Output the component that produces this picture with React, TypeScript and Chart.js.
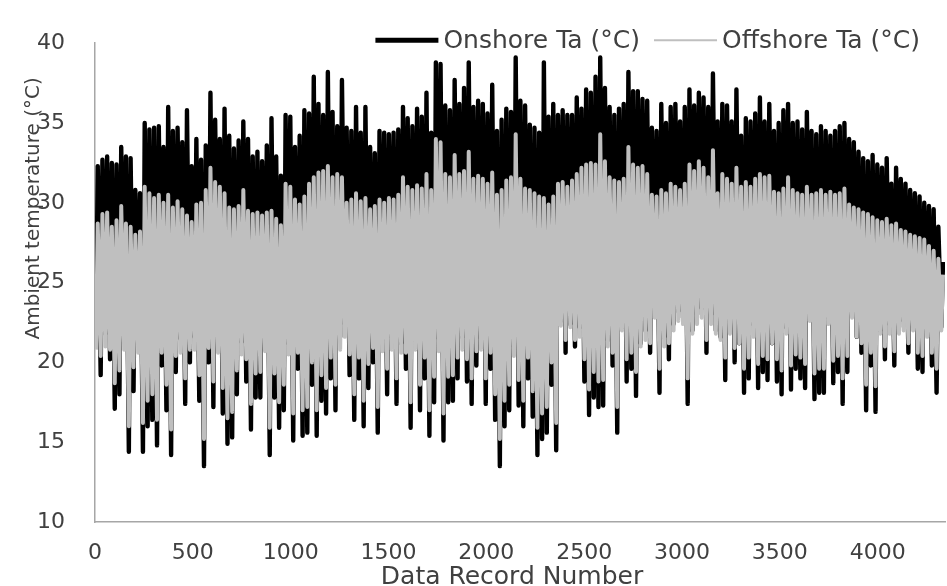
import React, { useEffect, useRef } from 'react';
import { Chart, registerables } from 'chart.js';

Chart.register(...registerables);

// ---- data (daily extremes; one day = 24 records) ----
const HOURS_PER_DAY = 24;
const HOUR_OF_MIN = 5;
const HOUR_OF_MAX = 14;
const X_MAX = 4344;

const xTickValues = [0, 500, 1000, 1500, 2000, 2500, 3000, 3500, 4000];
const yTickValues = [10, 15, 20, 25, 30, 35, 40];

const seriesLabels = ['Onshore Ta (°C)', 'Offshore Ta (°C)'];
const xTitle = 'Data Record Number';
const yTitle = 'Ambient temperature (°C)';

const onshoreDailyMax = [
  32.3, 32.7, 32.9, 32.5, 32.4, 33.5, 32.9, 32.8, 30.8, 30.6,
  35.0, 34.6, 34.7, 34.8, 33.5, 36.0, 34.5, 34.7, 33.8, 35.8,
  32.3, 34.0, 32.7, 33.6, 36.9, 35.2, 34.0, 35.9, 34.2, 33.4,
  33.9, 35.1, 34.0, 32.9, 33.2, 32.6, 33.6, 35.3, 32.9, 31.7,
  35.5, 35.4, 33.5, 34.2, 35.8, 35.6, 37.9, 36.2, 35.5, 38.2,
  35.7, 34.8, 37.7, 34.7, 34.5, 36.0, 34.4, 36.0, 33.5, 33.1,
  34.5, 34.4, 34.3, 34.4, 34.6, 36.0, 35.3, 34.8, 35.9, 35.4,
  36.9, 34.4, 38.8, 38.7, 36.1, 35.8, 37.7, 36.2, 37.2, 38.8,
  36.0, 36.4, 36.2, 35.6, 37.4, 34.5, 35.2, 35.9, 35.7, 39.1,
  36.4, 36.1, 34.9, 34.7, 34.4, 38.8, 35.4, 36.2, 35.5, 35.8,
  35.5, 35.5, 36.6, 35.9, 37.1, 36.9, 37.9, 39.1, 37.2, 36.0,
  35.5, 35.9, 36.2, 38.2, 37.0, 37.0, 36.5, 36.4, 34.7, 34.5,
  36.2, 35.0, 36.0, 36.2, 35.1, 36.0, 37.1, 36.1, 36.9, 36.6,
  36.0, 38.1, 35.1, 36.2, 36.1, 35.1, 37.1, 34.2, 35.3, 35.1,
  35.6, 36.6, 35.1, 36.2, 34.5, 35.0, 35.8, 36.2, 35.0, 35.1,
  34.6, 35.7, 34.5, 34.3, 34.8, 34.5, 34.2, 34.5, 34.8, 35.0,
  34.0, 33.8, 33.2, 32.8, 32.6, 33.0, 32.4, 32.2, 32.8, 31.2,
  32.2, 31.5, 31.2, 30.8, 30.6, 30.4, 30.0, 29.8, 29.6, 28.5, 26.3,
];

const onshoreDailyMin = [
  21.5, 19.2, 21.8, 20.2, 17.1, 18.0, 21.6, 14.4, 18.2, 21.4,
  14.4, 16.0, 16.4, 14.8, 19.8, 17.0, 14.2, 19.4, 21.5, 17.4,
  20.0, 21.6, 17.6, 13.5, 20.0, 17.2, 21.4, 16.8, 14.9, 15.3,
  18.0, 21.3, 18.8, 15.8, 17.8, 17.8, 21.5, 14.2, 17.8, 15.9,
  17.0, 21.2, 15.1, 19.6, 15.4, 15.6, 18.6, 15.4, 17.6, 16.8,
  19.0, 17.0, 21.6, 22.4, 19.2, 16.4, 19.0, 16.0, 18.4, 20.0,
  15.6, 21.4, 18.0, 21.6, 17.4, 21.2, 19.6, 15.9, 21.4, 17.0,
  19.0, 15.4, 17.5, 21.5, 15.1, 17.5, 17.6, 19.0, 21.6, 18.8,
  17.4, 19.8, 21.5, 17.4, 19.6, 16.4, 13.5, 16.0, 17.0, 21.0,
  17.3, 16.0, 19.0, 16.6, 14.2, 15.2, 15.6, 18.6, 14.5, 22.6,
  20.6, 22.4, 21.0, 22.2, 18.8, 16.7, 17.8, 17.2, 17.3, 21.4,
  19.8, 15.6, 22.2, 18.8, 19.6, 17.9, 21.2, 22.0, 20.6, 23.6,
  18.1, 21.6, 20.2, 22.4, 23.2, 22.8, 17.4, 22.0, 23.0, 23.4,
  20.6, 23.0, 22.0, 21.6, 18.9, 22.6, 20.0, 21.2, 18.1, 19.0,
  22.4, 18.4, 19.4, 18.9, 21.2, 18.8, 18.0, 22.2, 18.3, 19.6,
  19.0, 18.4, 23.2, 17.7, 18.1, 18.1, 22.8, 18.7, 19.4, 17.4,
  19.4, 23.4, 21.6, 20.6, 17.0, 19.8, 16.9, 22.0, 20.2, 22.4,
  19.8, 22.2, 22.6, 20.6, 22.6, 19.6, 19.4, 22.0, 19.8, 18.1, 22.2,
];

const offshoreDailyMax = [
  28.7, 29.3, 29.4, 28.5, 28.9, 29.8, 28.7, 28.5, 28.0, 28.2,
  31.0, 30.6, 30.3, 30.5, 30.0, 30.5, 29.7, 30.1, 29.6, 29.2,
  28.8, 29.9, 30.0, 30.8, 32.2, 31.3, 31.0, 30.6, 29.7, 29.6,
  29.8, 30.8, 29.5, 29.3, 29.4, 29.2, 29.4, 29.5, 29.0, 28.6,
  31.2, 31.0, 30.2, 29.9, 30.4, 31.2, 31.6, 31.9, 32.0, 32.3,
  31.6, 31.8, 31.6, 30.0, 30.2, 30.6, 30.1, 30.3, 29.6, 29.8,
  30.2, 30.0, 30.3, 30.2, 30.5, 31.6, 31.0, 30.8, 31.1, 30.9,
  31.8, 30.8, 34.0, 33.8, 31.8, 31.6, 33.0, 31.8, 32.0, 33.2,
  31.5, 31.7, 31.5, 31.2, 31.9, 30.5, 30.8, 31.4, 31.6, 34.3,
  31.5, 30.9, 30.8, 30.6, 30.4, 30.3, 29.9, 30.4, 31.2, 31.3,
  31.0, 31.4, 31.8, 32.2, 32.4, 32.5, 32.4, 34.3, 32.6, 31.6,
  31.4, 31.3, 31.5, 33.5, 32.4, 32.2, 32.3, 31.8, 30.5, 30.4,
  30.8, 30.6, 31.2, 31.0, 30.8, 31.2, 32.4, 32.0, 32.6, 32.2,
  31.6, 33.3, 30.6, 31.8, 31.5, 31.2, 32.2, 31.0, 31.3, 31.0,
  31.5, 31.8, 31.6, 31.7, 30.7, 30.6, 30.9, 31.6, 30.8, 30.6,
  30.5, 31.0, 30.5, 30.6, 30.8, 30.5, 30.7, 30.5, 30.6, 30.9,
  29.9, 29.7, 29.6, 29.4, 29.3, 29.1, 28.9, 28.8, 29.0, 28.6,
  28.7, 28.3, 28.2, 28.0, 27.9, 27.8, 27.7, 27.3, 27.0, 26.5, 25.5,
];

const offshoreDailyMin = [
  20.8, 20.4, 21.0, 20.8, 18.7, 19.5, 20.8, 16.0, 19.7, 20.6,
  16.2, 17.6, 18.0, 16.4, 20.6, 18.6, 15.8, 20.4, 20.6, 19.0,
  20.8, 20.8, 19.2, 15.2, 20.9, 18.8, 20.6, 18.4, 16.5, 16.9,
  19.5, 20.5, 20.2, 17.4, 19.3, 19.4, 20.7, 15.9, 19.3, 17.5,
  18.6, 20.5, 16.8, 20.6, 17.0, 17.2, 20.0, 17.0, 19.2, 18.4,
  20.3, 18.6, 20.8, 21.6, 20.5, 18.0, 20.3, 17.6, 19.9, 20.9,
  17.2, 20.7, 19.6, 20.8, 19.0, 20.6, 20.6, 17.5, 20.8, 18.6,
  20.3, 17.0, 19.1, 20.7, 16.8, 19.1, 19.2, 20.3, 20.8, 20.2,
  19.0, 20.7, 20.8, 19.0, 20.6, 18.0, 15.2, 17.6, 18.6, 20.4,
  18.9, 17.6, 20.3, 18.2, 15.9, 16.8, 17.2, 20.0, 16.2, 22.3,
  21.4, 22.2, 21.4, 21.6, 20.2, 18.3, 19.4, 18.8, 18.9, 21.0,
  20.6, 17.2, 22.0, 20.2, 20.6, 19.4, 21.0, 21.4, 21.2, 22.8,
  19.6, 21.0, 21.2, 22.0, 22.6, 22.4, 19.0, 21.8, 22.4, 22.8,
  21.4, 22.4, 21.8, 21.4, 20.3, 21.8, 20.9, 21.2, 19.6, 20.3,
  21.6, 19.9, 20.4, 20.2, 21.2, 20.2, 19.5, 21.8, 19.8, 20.5,
  20.3, 19.9, 22.6, 19.3, 19.6, 19.6, 22.4, 20.1, 20.4, 19.0,
  20.4, 22.8, 21.6, 21.2, 18.6, 20.6, 18.5, 21.8, 21.0, 21.8,
  20.7, 21.8, 22.0, 21.2, 22.0, 20.6, 20.4, 21.6, 20.6, 19.6, 22.0,
];

// ---- styling ----
const TEXT_COLOR = '#404040';
const AXIS_COLOR = '#a6a6a6';
const ONSHORE_COLOR = '#000000';
const OFFSHORE_COLOR = '#bfbfbf';
const FONT = '"DejaVu Sans", "Open Sans", sans-serif';

function buildSeries(mins: number[], maxs: number[]) {
  const pts: { x: number; y: number }[] = [];
  for (let d = 0; d < mins.length; d++) {
    pts.push({ x: d * HOURS_PER_DAY + HOUR_OF_MIN, y: mins[d] });
    pts.push({ x: d * HOURS_PER_DAY + HOUR_OF_MAX, y: maxs[d] });
  }
  return pts;
}

const decorPlugin = {
  id: 'decor',
  afterDraw(chart: any) {
    const { ctx, chartArea } = chart;
    const datasets = chart.data.datasets;
    ctx.save();
    ctx.fillStyle = TEXT_COLOR;

    // legend (top right, overlapping plot area)
    ctx.font = `25px ${FONT}`;
    ctx.textBaseline = 'alphabetic';
    ctx.textAlign = 'left';
    const lineLen = 63;
    const gap = 5;
    const itemGap = 14;
    const widths = datasets.map((d: any) => ctx.measureText(d.label).width);
    const total =
      datasets.reduce((s: number, _d: any, i: number) => s + lineLen + gap + widths[i], 0) +
      itemGap * (datasets.length - 1);
    let x = chartArea.right - 25 - total;
    const yLine = chartArea.top - 3;
    const yText = chartArea.top + 5;
    datasets.forEach((d: any, i: number) => {
      ctx.beginPath();
      ctx.lineCap = 'butt';
      ctx.strokeStyle = d.borderColor;
      ctx.lineWidth = i === 0 ? 5 : 2;
      ctx.moveTo(x, yLine);
      ctx.lineTo(x + lineLen, yLine);
      ctx.stroke();
      x += lineLen + gap;
      ctx.fillText(d.label, x, yText);
      x += widths[i] + itemGap;
    });

    // y-axis title (rotated)
    ctx.save();
    ctx.font = `20px ${FONT}`;
    ctx.textAlign = 'center';
    ctx.textBaseline = 'alphabetic';
    ctx.translate(chartArea.left - 56, chartArea.top + (chartArea.bottom - chartArea.top) * 0.345);
    ctx.rotate(-Math.PI / 2);
    ctx.fillText(yTitle, 0, 0);
    ctx.restore();

    // x-axis title
    ctx.font = `25px ${FONT}`;
    ctx.textAlign = 'center';
    ctx.textBaseline = 'alphabetic';
    ctx.fillText(xTitle, (chartArea.left + chartArea.right) / 2 - 8, chart.height - 2);

    ctx.restore();
  },
};

export default function App() {
  const canvasRef = useRef<HTMLCanvasElement | null>(null);

  useEffect(() => {
    document.body.style.margin = '0';
    document.body.style.overflow = 'hidden';
    const canvas = canvasRef.current;
    if (!canvas) return;
    const chart = new Chart(canvas, {
      type: 'line',
      data: {
        datasets: [
          {
            label: seriesLabels[0],
            data: buildSeries(onshoreDailyMin, onshoreDailyMax),
            borderColor: ONSHORE_COLOR,
            backgroundColor: ONSHORE_COLOR,
            borderWidth: 4.4,
            borderJoinStyle: 'round',
            pointRadius: 0,
            tension: 0,
            order: 2,
          },
          {
            label: seriesLabels[1],
            data: buildSeries(offshoreDailyMin, offshoreDailyMax),
            borderColor: OFFSHORE_COLOR,
            backgroundColor: OFFSHORE_COLOR,
            borderWidth: 4,
            borderJoinStyle: 'round',
            pointRadius: 0,
            tension: 0,
            order: 1,
          },
        ],
      },
      options: {
        animation: false,
        responsive: false,
        maintainAspectRatio: false,
        events: [],
        layout: { padding: { left: 0, right: 2, top: 25, bottom: 0 } },
        plugins: {
          legend: { display: false },
          tooltip: { enabled: false },
          title: { display: false },
        },
        scales: {
          x: {
            type: 'linear',
            min: 0,
            max: X_MAX,
            grid: { display: false, drawTicks: false },
            border: { display: true, color: AXIS_COLOR, width: 1.5 },
            ticks: {
              color: TEXT_COLOR,
              font: { family: FONT, size: 22 },
              padding: 18,
              maxRotation: 0,
              autoSkip: false,
              callback: (v: any) => String(v),
            },
            afterBuildTicks: (scale: any) => {
              scale.ticks = xTickValues.map((v) => ({ value: v }));
            },
            afterFit: (scale: any) => {
              scale.height = 64;
            },
          },
          y: {
            type: 'linear',
            min: 10,
            max: 40,
            grid: { display: false, drawTicks: false },
            border: { display: true, color: AXIS_COLOR, width: 1.5 },
            ticks: {
              color: TEXT_COLOR,
              font: { family: FONT, size: 22 },
              padding: 30,
              callback: (v: any) => String(v),
            },
            afterBuildTicks: (scale: any) => {
              scale.ticks = yTickValues.map((v) => ({ value: v }));
            },
            afterFit: (scale: any) => {
              scale.width = 95;
            },
          },
        },
      },
      plugins: [decorPlugin],
    });
    return () => chart.destroy();
  }, []);

  return (
    <div style={{ width: 947, height: 586, background: '#ffffff' }}>
      <canvas
        ref={canvasRef}
        width={947}
        height={586}
        style={{ display: 'block', width: 947, height: 586 }}
      />
    </div>
  );
}
